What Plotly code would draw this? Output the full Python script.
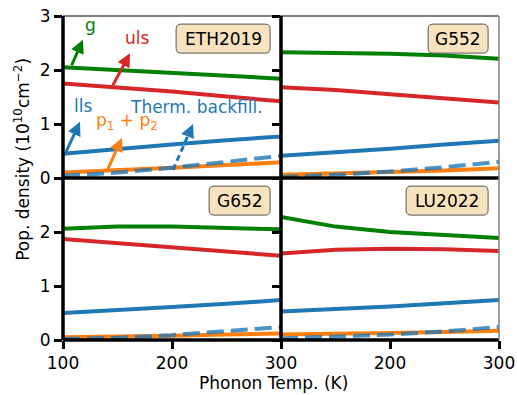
import plotly.graph_objects as go
from plotly.subplots import make_subplots

temps = [100, 150, 200, 250, 300]

panels = ["ETH2019", "G552", "G652", "LU2022"]

eth_g = [2.05, 2.00, 1.95, 1.90, 1.84]
eth_uls = [1.75, 1.68, 1.60, 1.51, 1.42]
eth_lls = [0.45, 0.54, 0.62, 0.70, 0.77]
eth_p = [0.10, 0.14, 0.19, 0.24, 0.29]
eth_tb = [0.04, 0.10, 0.19, 0.30, 0.41]

g552_g = [2.33, 2.32, 2.30, 2.27, 2.21]
g552_uls = [1.68, 1.63, 1.55, 1.47, 1.40]
g552_lls = [0.41, 0.47, 0.54, 0.62, 0.69]
g552_p = [0.06, 0.08, 0.11, 0.14, 0.18]
g552_tb = [0.02, 0.06, 0.12, 0.20, 0.30]

g652_g = [2.06, 2.10, 2.10, 2.08, 2.05]
g652_uls = [1.87, 1.79, 1.71, 1.63, 1.56]
g652_lls = [0.50, 0.55, 0.61, 0.67, 0.74]
g652_p = [0.05, 0.06, 0.08, 0.10, 0.12]
g652_tb = [0.02, 0.04, 0.09, 0.16, 0.24]

lu_g = [2.28, 2.10, 2.00, 1.94, 1.89]
lu_uls = [1.60, 1.67, 1.69, 1.68, 1.65]
lu_lls = [0.53, 0.57, 0.62, 0.68, 0.74]
lu_p = [0.10, 0.11, 0.13, 0.15, 0.17]
lu_tb = [0.03, 0.06, 0.10, 0.16, 0.24]

data = {
    "ETH2019": (eth_g, eth_uls, eth_lls, eth_p, eth_tb),
    "G552": (g552_g, g552_uls, g552_lls, g552_p, g552_tb),
    "G652": (g652_g, g652_uls, g652_lls, g652_p, g652_tb),
    "LU2022": (lu_g, lu_uls, lu_lls, lu_p, lu_tb),
}

x_ticks = [100, 200, 300]
x_ticktext_left = ["100", "200", "300"]
x_ticktext_right = ["", "200", "300"]
y_ticks_top = [0, 1, 2, 3]
y_ticks_bottom = [0, 1, 2]

GREEN = "#008000"
RED = "#d62728"
BLUE = "#1f77b4"
ORANGE = "#ff7f0e"
DASHBLUE = "rgba(31,119,180,0.8)"
FONT = "DejaVu Sans"
FS = 17

fig = make_subplots(rows=2, cols=2, horizontal_spacing=0, vertical_spacing=0)

positions = {"ETH2019": (1, 1), "G552": (1, 2), "G652": (2, 1), "LU2022": (2, 2)}
box_w = {"ETH2019": 94, "G552": 60, "G652": 61, "LU2022": 82}
axis_ids = {"ETH2019": "", "G552": "2", "G652": "3", "LU2022": "4"}

for name in panels:
    r, c = positions[name]
    g, uls, lls, p, tb = data[name]
    for vals, col, dash in [(g, GREEN, "solid"), (uls, RED, "solid"), (lls, BLUE, "solid"),
                            (p, ORANGE, "solid"), (tb, DASHBLUE, "17px,7px")]:
        fig.add_trace(go.Scatter(x=temps, y=vals, mode="lines",
                                 line=dict(color=col, width=4, dash=dash),
                                 showlegend=False, hoverinfo="skip"), row=r, col=c)
    aid = axis_ids[name]
    W = box_w[name]
    fig.add_shape(type="path", xref=f"x{aid} domain", yref=f"y{aid} domain",
                  xsizemode="pixel", ysizemode="pixel", xanchor=0.95, yanchor=0.95,
                  path=(f"M {-W+5},0 L -5,0 Q 0,0 0,-5 L 0,-24 Q 0,-29 -5,-29 "
                        f"L {-W+5},-29 Q {-W},-29 {-W},-24 L {-W},-5 Q {-W},0 {-W+5},0 Z"),
                  fillcolor="rgba(245,222,179,0.85)", line=dict(color="#555555", width=1),
                  layer="above")
    fig.add_annotation(xref=f"x{aid} domain", yref=f"y{aid} domain", x=0.95, y=0.95,
                       xanchor="center", yanchor="middle", xshift=-W / 2, yshift=-14.5,
                       text=name, showarrow=False, font=dict(family=FONT, size=FS, color="black"))

for r in (1, 2):
    for c in (1, 2):
        fig.update_xaxes(range=[100, 300], showgrid=False, zeroline=False, showline=False,
                         automargin=False, ticklabeloverflow="allow",
                         tickvals=x_ticks,
                         ticktext=x_ticktext_left if c == 1 else x_ticktext_right,
                         ticks="outside" if r == 2 else "", ticklen=8, tickwidth=3,
                         tickcolor="black", showticklabels=(r == 2),
                         tickfont=dict(family=FONT, size=FS, color="black"), row=r, col=c)
        fig.update_yaxes(range=[0, 3], showgrid=False, zeroline=False, showline=False,
                         automargin=False, ticklabeloverflow="allow",
                         tickvals=y_ticks_top if r == 1 else y_ticks_bottom,
                         ticks="outside", ticklen=8, tickwidth=3, tickcolor="black",
                         showticklabels=(c == 1),
                         tickfont=dict(family=FONT, size=FS, color="black"), row=r, col=c)

# spines
spines = [
    (0, 0, 0, 1, "black", 3.5), (0.5, 0, 0.5, 1, "black", 3.5),
    (0, 0, 1, 0, "black", 3.5), (0, 0.5, 1, 0.5, "black", 3.5),
    (0, 1, 1, 1, "black", 1), (1, 0, 1, 1, "#808080", 1.5),
]
for x0, y0, x1, y1, col, w in spines:
    fig.add_shape(type="line", xref="paper", yref="paper", x0=x0, y0=y0, x1=x1, y1=y1,
                  line=dict(color=col, width=w), layer="above")

# labels with arrows in first panel
labels = [
    ("g", GREEN, 124.8, 2.83, 118.3, 2.56, 107.3, 2.06),
    ("uls", RED, 168, 2.59, 161.5, 2.31, 145, 1.69),
    ("lls", BLUE, 118.3, 1.33, 115.6, 1.04, 101.8, 0.44),
    ("p<sub>1</sub> + p<sub>2</sub>", ORANGE, 158.7, 1.04, 154.1, 0.74, 140.4, 0.13),
]
for txt, col, tx, ty, hx, hy, sx, sy in labels:
    fig.add_annotation(xref="x", yref="y", x=tx, y=ty, text=txt, showarrow=False,
                       font=dict(family=FONT, size=FS, color=col))
    fig.add_annotation(xref="x", yref="y", axref="x", ayref="y", x=hx, y=hy, ax=sx, ay=sy,
                       text="", showarrow=True, arrowhead=2, arrowsize=0.9, arrowwidth=3,
                       arrowcolor=col, standoff=0, startstandoff=0)

# thermal backfilling label with dashed arrow
fig.add_annotation(xref="x", yref="y", x=222.5, y=1.31, text="Therm. backfill.", showarrow=False,
                   font=dict(family=FONT, size=FS, color=BLUE))
tb_head = (219.3, 1.0)
tb_tail = (200.9, 0.15)
fig.add_shape(type="line", xref="x", yref="y", x0=tb_tail[0], y0=tb_tail[1],
              x1=tb_tail[0] + 0.8 * (tb_head[0] - tb_tail[0]),
              y1=tb_tail[1] + 0.8 * (tb_head[1] - tb_tail[1]),
              line=dict(color=BLUE, width=3, dash="6px,4px"))
fig.add_annotation(xref="x", yref="y", axref="x", ayref="y", x=tb_head[0], y=tb_head[1],
                   ax=tb_tail[0] + 0.8 * (tb_head[0] - tb_tail[0]),
                   ay=tb_tail[1] + 0.8 * (tb_head[1] - tb_tail[1]),
                   text="", showarrow=True, arrowhead=2, arrowsize=0.9, arrowwidth=3,
                   arrowcolor=BLUE, standoff=0, startstandoff=0)

fig.add_annotation(xref="paper", yref="paper", x=-0.094, y=0.556, textangle=-90,
                   text="Pop. density (10<sup>10</sup>cm<sup>−2</sup>)", showarrow=False,
                   xanchor="center", yanchor="middle",
                   font=dict(family=FONT, size=FS, color="black"))
fig.add_annotation(xref="paper", yref="paper", x=0.482, y=-0.133,
                   text="Phonon Temp. (K)", showarrow=False, xanchor="center", yanchor="middle",
                   font=dict(family=FONT, size=FS, color="black"))

fig.update_layout(width=517, height=395, margin=dict(l=63, r=18, t=16, b=55),
                  paper_bgcolor="white", plot_bgcolor="white",
                  font=dict(family=FONT, size=FS, color="black"))

# remove the default 8px page margin so the figure fills the window exactly
fig.write_html("out.html", config={"displayModeBar": False},
               post_script="document.body.style.margin='0px'; document.body.style.overflow='hidden';")
